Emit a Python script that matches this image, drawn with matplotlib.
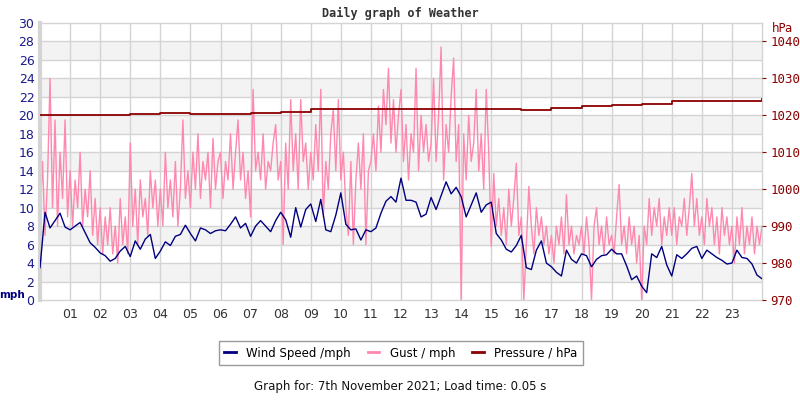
import numpy as np
import matplotlib
matplotlib.use('Agg')
import matplotlib.pyplot as plt
from matplotlib.lines import Line2D

WIND_COL = '#000080'
GUST_COL = '#ff88ae'
PRES_COL = '#8b0000'
GRID_COL = '#d4d4d4'

# wind speed (mph), every 10 minutes from 00:00 to 24:00
wind = [
    3.5, 9.5, 7.8, 8.6, 9.4, 7.9,
    7.6, 8.0, 8.4, 7.3, 6.2, 5.7,
    5.1, 4.8, 4.2, 4.5, 5.3, 5.8,
    4.7, 6.4, 5.5, 6.6, 7.1, 4.5,
    5.3, 6.3, 5.9, 6.9, 7.1, 8.1,
    7.2, 6.4, 7.8, 7.6, 7.2, 7.5,
    7.6, 7.5, 8.2, 9.0, 7.8, 8.3,
    6.9, 8.0, 8.6, 8.0, 7.4, 8.6,
    9.5, 8.7, 6.8, 10.0, 7.9, 9.8,
    10.4, 8.5, 10.9, 7.6, 7.4, 9.2,
    11.6, 8.2, 7.6, 7.7, 6.5, 7.6,
    7.4, 7.8, 9.4, 10.7, 11.2, 10.6,
    13.2, 10.8, 10.8, 10.6, 9.0, 9.3,
    11.1, 9.8, 11.3, 12.8, 11.5, 12.2,
    11.2, 9.0, 10.3, 11.6, 9.5, 10.3,
    10.6, 7.2, 6.5, 5.5, 5.2, 5.9,
    7.0, 3.5, 3.3, 5.4, 6.4, 4.0,
    3.6, 3.0, 2.6, 5.4, 4.4, 4.0,
    5.0, 4.8, 3.6, 4.4, 4.8, 4.9,
    5.5, 5.0, 5.0, 3.7, 2.2, 2.6,
    1.5, 0.8, 5.0, 4.6, 5.8, 3.8,
    2.6, 4.9, 4.5, 5.0, 5.6, 5.8,
    4.5, 5.4, 5.0, 4.6, 4.3, 3.9,
    4.0, 5.4, 4.6, 4.5, 3.9, 2.7,
    2.3,
]

# gust (mph), every 5 minutes from 00:00 to 24:00
gust = [
    9, 15, 7, 13, 24, 10, 19.5, 8, 16, 11, 19.5, 9,
    14, 8, 13, 10, 16, 8, 12, 9, 14, 7, 11, 6,
    10, 5, 9, 6, 10, 5, 8, 4, 11, 6, 9, 5,
    17, 8, 12, 6, 13, 9, 11, 7, 14, 10, 13, 8,
    12, 8, 16, 10, 13, 9, 15, 8, 12, 19.5, 11, 14,
    10, 16, 12, 18, 11, 15, 13, 16, 10, 17.5, 12, 15,
    16, 11, 15, 13, 18, 12, 16, 19.5, 13, 16, 11, 14,
    9, 22.8, 14, 16, 13, 18, 12, 15, 14, 17, 19, 13,
    15, 6, 17, 12, 21.7, 14, 18, 12, 21.7, 15, 17, 12,
    16, 13, 19, 14, 22.8, 9, 15, 12, 18, 20.6, 14, 21.7,
    13, 16, 10, 7, 15, 6, 13, 17, 12, 18, 6, 14,
    15, 18, 14, 21, 16, 22.8, 19, 25.1, 17, 21.7, 16, 20,
    22.8, 15, 19, 13, 18, 16, 25.1, 14, 20, 16, 19, 15,
    17, 24, 15, 20, 27.4, 13, 19, 16, 22, 26.2, 15, 19,
    0, 18, 13, 20, 15, 17, 22.8, 14, 18, 12, 22.8, 16,
    5.8, 13.7, 8, 11, 7, 10, 6, 12, 8, 11, 14.8, 7,
    9, 0, 6, 12.3, 8, 5, 10, 7, 9, 6, 8, 5,
    7, 4, 8, 6, 9, 5, 11.4, 6, 8, 5, 7, 6,
    8, 5, 9, 6, 0, 8, 10, 6, 8, 5, 9, 6,
    7, 5, 9, 12.5, 6, 8, 5, 9, 6, 8, 4, 7,
    0, 8, 6, 11, 7, 10, 8, 11, 6, 9, 7, 10,
    7, 10, 6, 9, 8, 11, 7, 10, 13.7, 8, 11, 7,
    9, 6, 11, 8, 10, 6, 9, 5, 10, 7, 9, 6,
    8, 4, 9, 6, 10, 5, 8, 6, 9, 5, 8, 6,
    8,
]

# pressure (hPa), hourly
pressure = [
    1020.2, 1020.1, 1020.1, 1020.3, 1020.6, 1020.4, 1020.4, 1020.5,
    1021.0, 1021.6, 1021.6, 1021.8, 1021.7, 1021.7, 1021.6, 1021.8,
    1021.5, 1022.1, 1022.5, 1022.8, 1023.2, 1023.9, 1023.9, 1024.0,
    1024.4,
]

hour_labels = [f"{h:02d}" for h in range(1, 24)]

t_wind = np.linspace(0, 24, len(wind))
t_gust = np.linspace(0, 24, len(gust))
t_pres = np.arange(len(pressure))

fig = plt.figure(figsize=(8, 4), dpi=100)
ax = fig.add_axes([0.05, 0.25, 0.9025, 0.6925])

ax.set_xlim(0, 24)
ax.set_ylim(0, 30)

# alternate shaded bands
for lo in range(2, 30, 4):
    ax.axhspan(lo, lo + 2, color='#f3f3f3', zorder=0, lw=0)
for y in range(2, 30, 2):
    ax.axhline(y, color=GRID_COL, lw=1, zorder=1)
for h in range(1, 24):
    ax.axvline(h, color=GRID_COL, lw=1, zorder=1)

ax.plot(t_gust, gust, color=GUST_COL, lw=1, zorder=2)
ax.plot(t_wind, wind, color=WIND_COL, lw=1, zorder=3)

ax.set_yticks(range(0, 31, 2))
ax.set_yticklabels([str(v) for v in range(0, 31, 2)], color='#1a1a8c', fontsize=9)
ax.set_xticks(range(1, 24))
ax.set_xticklabels(hour_labels, color='#333333', fontsize=9)
ax.tick_params(axis='both', length=0, pad=6)
ax.tick_params(axis='y', pad=4)

for s in ['top', 'bottom', 'right']:
    ax.spines[s].set_color(GRID_COL)
    ax.spines[s].set_linewidth(1)
ax.spines['left'].set_color(GRID_COL)
ax.spines['left'].set_linewidth(3)

ax2 = ax.twinx()
ax2.set_ylim(970, 1045)
ax2.plot(t_pres, pressure, color=PRES_COL, lw=1.3, drawstyle='steps-post')
ax2.set_yticks(range(970, 1041, 10))
ax2.set_yticklabels([str(v) for v in range(970, 1041, 10)], color=PRES_COL,
                    fontsize=9, family='DejaVu Sans Mono')
ax2.tick_params(axis='y', length=3, color=PRES_COL, pad=3)
for s in ax2.spines.values():
    s.set_visible(False)

fig.text(0.5, 0.967, "Daily graph of Weather", ha='center', va='center',
         fontsize=8.5, fontweight='bold', family='DejaVu Sans Mono', color='#333333')
fig.text(0.015, 0.262, "mph", ha='center', va='center', fontsize=7.5,
         fontweight='bold', color=WIND_COL)
fig.text(0.978, 0.928, "hPa", ha='center', va='center', fontsize=8.5, color=PRES_COL)

handles = [Line2D([], [], color=WIND_COL, lw=2),
           Line2D([], [], color=GUST_COL, lw=2),
           Line2D([], [], color=PRES_COL, lw=2)]
leg = fig.legend(handles, ["Wind Speed /mph", "Gust / mph", "Pressure / hPa"],
                 loc='center', bbox_to_anchor=(0.501, 0.1175), ncol=3,
                 fontsize=8.5, frameon=True, fancybox=False, handlelength=1.0,
                 columnspacing=1.4, handletextpad=0.9, borderpad=0.45)
leg.get_frame().set_edgecolor('#808080')
leg.get_frame().set_linewidth(1)

fig.text(0.5, 0.033, "Graph for: 7th November 2021; Load time: 0.05 s",
         ha='center', va='center', fontsize=8.5, color='#111111')

fig.savefig('out.png', dpi=100)
